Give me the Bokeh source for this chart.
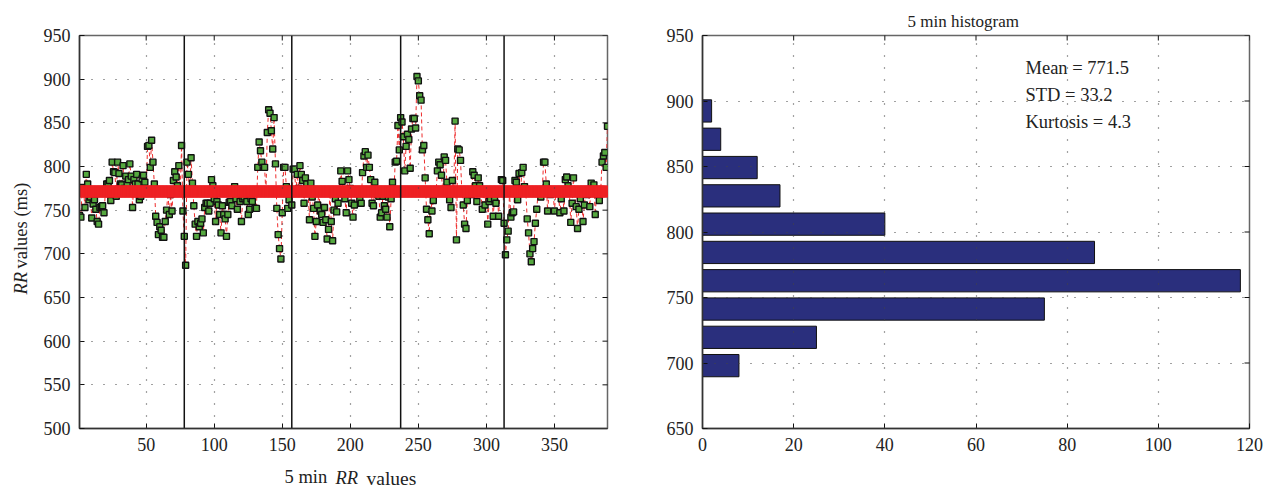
import math

from bokeh.plotting import figure
from bokeh.layouts import row
from bokeh.models import Range1d, FixedTicker, Label
from bokeh.embed import file_html
from bokeh.resources import INLINE

rr_values = [
    744, 742, 776, 772, 753, 791, 780, 762, 765, 741,
    757, 762, 751, 737, 734, 753, 754, 755, 747, 770,
    780, 780, 784, 761, 805, 794, 793, 766, 805, 792,
    780, 779, 801, 775, 789, 780, 785, 803, 789, 753,
    785, 780, 791, 780, 762, 766, 786, 790, 782, 772,
    823, 824, 799, 830, 805, 780, 743, 736, 722, 731,
    727, 719, 719, 737, 750, 770, 745, 768, 749, 784,
    794, 788, 778, 801, 772, 824, 749, 720, 687, 805,
    791, 770, 810, 781, 755, 734, 720, 737, 731, 735,
    740, 724, 753, 758, 758, 749, 758, 785, 778, 763,
    737, 760, 756, 745, 724, 755, 745, 740, 720, 745,
    759, 760, 755, 772, 777, 763, 751, 770, 760, 737,
    763, 765, 772, 760, 745, 751, 763, 760, 770, 752,
    752, 799, 828, 818, 805, 799, 799, 770, 839, 865,
    861, 841, 820, 856, 803, 752, 722, 706, 694, 747,
    799, 799, 777, 752, 762, 770, 756, 797, 797, 770,
    791, 775, 801, 791, 784, 758, 787, 780, 770, 739,
    781, 765, 752, 720, 737, 756, 770, 749, 745, 736,
    753, 739, 717, 728, 770, 737, 715, 750, 763, 748,
    758, 770, 795, 783, 770, 763, 747, 795, 785, 775,
    758, 742, 756, 770, 772, 770, 763, 758, 793, 812,
    817, 799, 813, 799, 785, 758, 755, 782, 770, 768,
    766, 742, 747, 766, 755, 751, 742, 765, 731, 763,
    782, 770, 805, 806, 847, 819, 856, 851, 834, 795,
    823, 837, 831, 798, 843, 855, 855, 844, 903, 898,
    881, 876, 819, 824, 787, 751, 739, 723, 770, 749,
    761, 772, 770, 795, 805, 802, 790, 770, 811, 807,
    782, 770, 762, 753, 784, 770, 852, 716, 820, 819,
    807, 770, 756, 734, 729, 761, 770, 772, 768, 794,
    790, 778, 760, 787, 778, 770, 751, 770, 756, 772,
    734, 760, 763, 770, 743, 763, 758, 770, 743, 770,
    785, 784, 735, 699, 716, 726, 770, 742, 747, 748,
    784, 782, 762, 792, 770, 793, 799, 777, 770, 740,
    724, 700, 691, 706, 714, 735, 751, 770, 772, 765,
    770, 805, 805, 780, 749, 770, 768, 770, 772, 749,
    770, 772, 770, 747, 763, 770, 749, 785, 788, 778,
    770, 736, 758, 787, 770, 754, 729, 751, 763, 770,
    737, 756, 770, 768, 772, 754, 781, 770, 779, 745,
    770, 768, 761, 772, 805, 812, 816, 799, 846,
]
rr_mean = 771.5
segment_ends = [78, 157, 237, 313]

hist_centers = [698, 719.6, 741.2, 762.8, 784.4, 806, 827.6, 849.2, 870.8, 892.4]
hist_counts = [8, 25, 75, 118, 86, 40, 17, 12, 4, 2]
stats_lines = ["Mean = 771.5", "STD = 33.2", "Kurtosis = 4.3"]

left_xticks = [50, 100, 150, 200, 250, 300, 350]
left_yticks = [500, 550, 600, 650, 700, 750, 800, 850, 900, 950]
right_xticks = [0, 20, 40, 60, 80, 100, 120]
right_yticks = [650, 700, 750, 800, 850, 900, 950]

SERIF = "Liberation Serif"
INK = "#222222"


def style_axes(p, xticks, yticks, x_end, y_end):
    for ax in p.xaxis + p.yaxis:
        ax.major_label_text_font = SERIF
        ax.major_label_text_font_size = "18px"
        ax.major_label_text_color = INK
        ax.axis_line_color = "#333333"
        ax.axis_line_width = 1.5
        ax.major_tick_line_color = "#111111"
        ax.major_tick_in = 5
        ax.major_tick_out = 0
        ax.minor_tick_line_color = None
    p.xaxis.ticker = FixedTicker(ticks=xticks)
    p.yaxis.ticker = FixedTicker(ticks=yticks)
    p.xaxis.major_label_standoff = 9
    p.yaxis.major_label_standoff = 9
    p.grid.grid_line_color = "#444444"
    p.grid.grid_line_dash = "1 11"
    p.grid.grid_line_width = 1.2
    p.grid.level = "overlay"
    p.xgrid.ticker = FixedTicker(ticks=xticks)
    p.ygrid.ticker = FixedTicker(ticks=yticks)
    p.outline_line_color = "#666666"
    p.outline_line_width = 1.5
    # mirrored ticks, half of each dash is clipped by the frame
    p.scatter([x_end] * len(yticks), yticks, marker="dash", size=10, line_color="#111111")
    p.scatter(xticks, [y_end] * len(xticks), marker="dash", size=10, angle=math.pi / 2,
              line_color="#111111")


def add_text(p, x, y, text, size="18.5px", style="normal", angle=0, place=None):
    label = Label(x=x, y=y, x_units="screen", y_units="screen", text=text,
                  text_font=SERIF, text_font_size=size, text_font_style=style,
                  text_color=INK, angle=angle, text_baseline="alphabetic")
    if place:
        p.add_layout(label, place)
    else:
        p.add_layout(label)


xs = list(range(1, len(rr_values) + 1))

left = figure(frame_width=528, frame_height=393, output_backend="svg", toolbar_location=None,
              x_range=Range1d(1, 389), y_range=Range1d(500, 950),
              min_border_left=77, min_border_right=27, min_border_top=35, min_border_bottom=60)
style_axes(left, left_xticks, left_yticks, 389, 950)
left.line(xs, rr_values, line_color="#ee2c2c", line_width=1, line_dash="4 3")
left.scatter(xs, rr_values, marker="square", size=6, fill_color="#55a83f",
             line_color="#111111", line_width=1.4)
left.scatter(xs, [rr_mean] * len(xs), marker="square", size=11.5, color="#ed2024",
             line_color=None, alpha=0.9)
left.segment(segment_ends, [500] * 4, segment_ends, [950] * 4, line_color="#111111", line_width=1.5)
add_text(left, 205, -3, "5 min", place="below")
add_text(left, 256, 16, "RR", style="italic", place="below")
add_text(left, 287, 36, "values", size="19.5px", place="below")
add_text(left, 0, 134, "RR", style="italic", angle=math.pi / 2, place="left")
add_text(left, 20, 160, "values (ms)", angle=math.pi / 2, place="left")

right = figure(frame_width=547, frame_height=393, output_backend="svg", toolbar_location=None,
               x_range=Range1d(0, 120), y_range=Range1d(650, 950),
               min_border_left=68, min_border_right=16, min_border_top=35, min_border_bottom=60)
style_axes(right, right_xticks, right_yticks, 120, 950)
right.hbar(y=hist_centers, right=hist_counts, height=17, left=0,
           fill_color="#2a2f7d", line_color="#111111", line_width=1)
add_text(right, 205, 14, "5 min histogram", size="17px", place="above")
for i, line in enumerate(stats_lines):
    add_text(right, 323, 361 - i * 27, line)

open("out.html", "w").write(file_html(row(left, right), INLINE))
